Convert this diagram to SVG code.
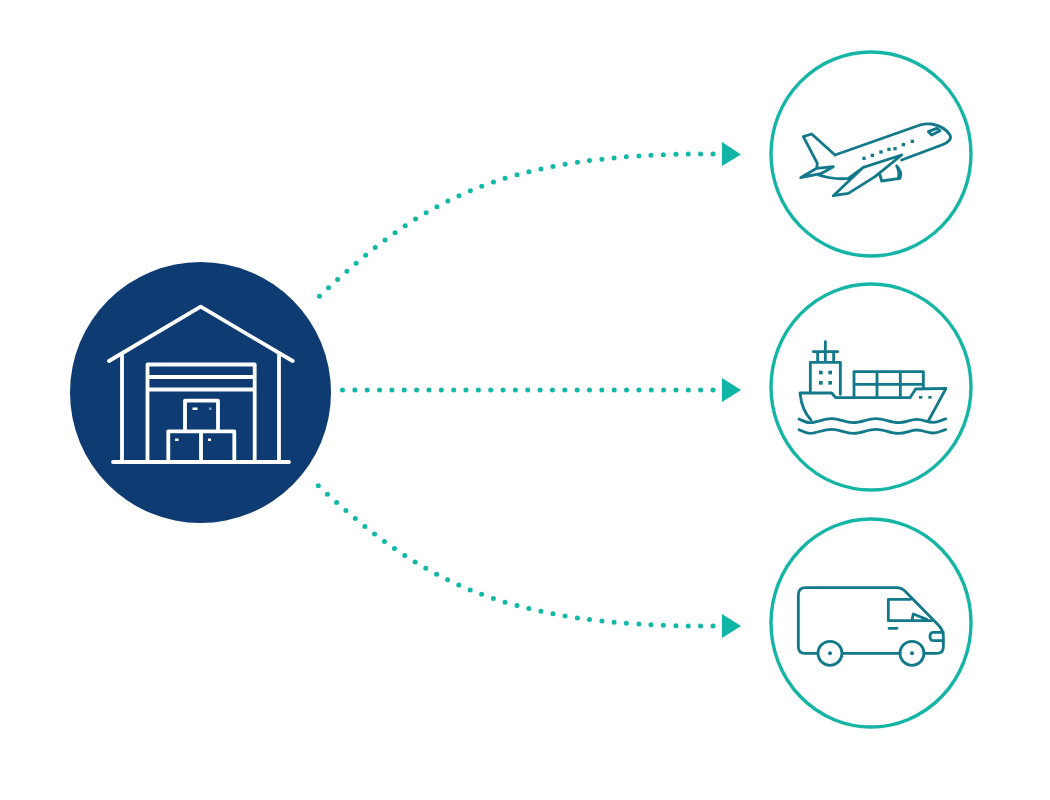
<svg xmlns="http://www.w3.org/2000/svg" width="1050" height="800" viewBox="0 0 1050 800">
<style>
.ring{fill:#fff;stroke:#14b5a4;stroke-width:3.4}
.dot{fill:none;stroke:#10b8a6;stroke-width:5;stroke-linecap:round;stroke-dasharray:0 12.35}
.arrow{fill:#10b5a5}
.wh{fill:none;stroke:#fff;stroke-width:3.8;stroke-linecap:round;stroke-linejoin:round}
.ico{fill:none;stroke:#12798a;stroke-width:8.5;stroke-linecap:round;stroke-linejoin:round}
.icof{fill:#12798a}
</style>
<rect width="1050" height="800" fill="#fff"/>
<g id="connectors">
<path class="dot" d="M713,154C498,153 418,203 317.700,298"/>
<path class="dot" d="M713,390L342,390"/>
<path class="dot" d="M713,626C498,627 418,578 317.700,485.300"/>
<path class="arrow" d="M722,142L741,154.500L722,166Z"/>
<path class="arrow" d="M722,378L741,390L722,402Z"/>
<path class="arrow" d="M722,614L741,626L722,638Z"/>
</g>
<g id="warehouse">
<circle cx="200.500" cy="392.500" r="130.500" fill="#0d3b72"/>
<g class="wh">
<path d="M109,361L200.700,306.700L292.700,361"/>
<path d="M122,355V462M279,355V462M113,462H289"/>
<path d="M147.500,462V364.500H254.700V462M147.500,377H254.700M147.500,389.500H254.700"/>
<path d="M185,431V400.700H218V431M168.300,462V431.300H234.300V462M201,431.300V462"/>
</g>
<path d="M192.500,407.500h5v2.500h-5zM175,438.500h3.500v2.500h-3.500zM208,438.500h3v2.500h-3z" fill="#fff"/>
<rect x="209" y="407.500" width="2.500" height="2.500" fill="#7f9bb8"/>
</g>
<g id="plane">
<ellipse class="ring" cx="871" cy="154" rx="100" ry="102"/>
<g transform="translate(785,110) scale(.33333)">
<path class="ico" d="M150,135L405,45Q420,40 440,42Q480,50 495,75Q503,92 470,105L350,150M150,135L80,72L55,80L97,160L95,175M47,203L95,175L145,170L110,190ZM100,195Q150,210 190,205L235,172L350,135L270,200L190,250L145,257L235,172"/>
<path class="ico" d="M430,65L455,55L465,62L440,75ZM285,195L290,213L345,205Q352,185 335,168M335,168Q345,185 340,205"/>
<g class="icof"><rect x="232" y="140" width="10" height="10"/><rect x="257" y="131" width="10" height="10"/><rect x="283" y="121" width="10" height="10"/><rect x="307" y="113" width="10" height="10"/><rect x="325" y="111" width="10" height="10"/><rect x="350" y="99" width="10" height="10"/><rect x="377" y="89" width="10" height="10"/></g>
</g>
</g>
<g id="ship">
<ellipse class="ring" cx="871" cy="387" rx="100" ry="103"/>
<g transform="translate(785,335) scale(.33333)">
<path class="ico" d="M121,20V50M85,50H158M98,50V80M121,50V80M146,50V80M76,172V82H166V178"/>
<path class="ico" d="M207,186V110H415V160M207,148H415M276,110V186M346,110V186"/>
<path class="ico" d="M45,174H140L152,188H375L392,162L483,160L430,258M45,174Q50,225 78,255"/>
<path class="ico" d="M42,252C55,258 62,263 75,263C95,263 115,251 140,251C165,251 180,263 205,263C230,263 248,251 272,251C298,251 315,263 340,263C365,263 375,253 395,253C415,253 425,262 445,262C460,262 470,255 482,252"/>
<path class="ico" d="M42,284C55,290 62,295 75,295C95,295 115,283 140,283C165,283 180,295 205,295C230,295 248,283 272,283C298,283 315,295 340,295C365,295 375,285 395,285C415,285 425,294 445,294C460,294 470,287 482,284"/>
<g class="icof"><rect x="102" y="107" width="11" height="11"/><rect x="130" y="107" width="11" height="11"/><rect x="102" y="138" width="11" height="11"/><rect x="130" y="138" width="11" height="11"/><rect x="402" y="183" width="10" height="8"/><rect x="430" y="183" width="10" height="8"/></g>
</g>
</g>
<g id="van">
<ellipse class="ring" cx="871" cy="623" rx="100" ry="104"/>
<g transform="translate(785,575) scale(.33333)">
<path class="ico" d="M97,235H60Q40,235 40,215V60Q40,38 62,38H335Q350,38 362,50L460,150Q475,165 475,185V215Q475,235 455,235H417M173,235H345"/>
<path class="ico" d="M377,73H310V137H440M382,130L385,117L425,133M312,160H336M475,172H445Q435,172 435,185Q435,197 447,197H475"/>
<circle class="ico" cx="135" cy="235" r="36"/><circle class="ico" cx="381" cy="235" r="36"/>
<circle class="icof" cx="135" cy="235" r="6"/><circle class="icof" cx="381" cy="235" r="6"/>
</g>
</g>
</svg>
